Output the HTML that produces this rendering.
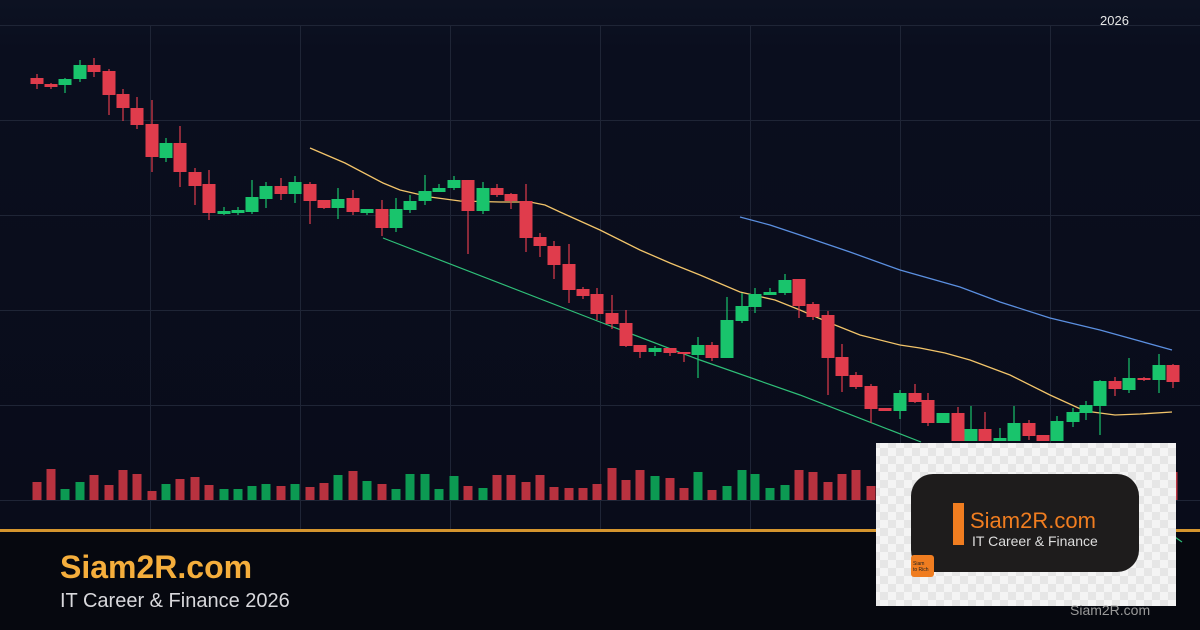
<!DOCTYPE html>
<html><head><meta charset="utf-8"><style>
html,body{margin:0;padding:0;width:1200px;height:630px;overflow:hidden;background:#080b16;font-family:"Liberation Sans",sans-serif}
#c{position:absolute;left:0;top:0}
</style></head><body>
<svg id="c" width="1200" height="630" xmlns="http://www.w3.org/2000/svg">
<defs>
<linearGradient id="bg" x1="0" y1="0" x2="0" y2="1"><stop offset="0" stop-color="#0d1222"/><stop offset="0.1" stop-color="#0a0e1e"/><stop offset="1" stop-color="#090c1a"/></linearGradient>
<pattern id="chk" width="16" height="16" patternUnits="userSpaceOnUse"><rect width="16" height="16" fill="#f4f4f4"/><rect width="8" height="8" fill="#e6e6e6"/><rect x="8" y="8" width="8" height="8" fill="#e6e6e6"/></pattern>
</defs>
<rect width="1200" height="530" fill="url(#bg)"/>
<rect y="530" width="1200" height="100" fill="#06080f"/>
<g id="grid" stroke="#1f2536" stroke-width="1"></g>
<g id="vol"></g>
<polyline fill="none" stroke="#2fbf78" stroke-width="1.2" points="383,238 600,322 700,360 800,395 921,442"/>
<polyline fill="none" stroke="#f2c46a" stroke-width="1.3" points="310,148 345,163 383,183 400,190 430,197 460,201 500,202 530,202 545,205 560,212 600,230 640,250 670,263 700,275 740,292 775,300 800,310 830,323 860,335 900,345 920,348 945,353 970,360 1010,375 1050,395 1085,411 1115,415 1140,414 1172,412"/>
<polyline fill="none" stroke="#5b8fe0" stroke-width="1.3" points="740,217 770,225 800,235 850,252 900,270 960,287 1000,302 1050,318 1100,330 1172,350"/>
<g id="cd"></g>
<rect x="0" y="529" width="1200" height="3" fill="#d4952e"/>
<text x="60" y="578" fill="#f5ae3c" font-size="32" font-weight="bold">Siam2R.com</text>
<text x="60" y="607" fill="#d8d8dc" font-size="20">IT Career &amp; Finance 2026</text>
<text x="1100" y="25" fill="#e6e6e6" font-size="13">2026</text>
<line x1="1172" y1="535" x2="1182" y2="542" stroke="#2fbf78" stroke-width="1.2"/>
<rect x="876" y="443" width="300" height="163" fill="url(#chk)"/>
<rect x="911" y="474" width="228" height="98" rx="22" fill="#1e1c1c"/>
<rect x="953" y="503" width="11" height="42" fill="#f07d20"/>
<text x="970" y="528" fill="#f07d20" font-size="22">Siam2R.com</text>
<text x="972" y="546" fill="#dddddd" font-size="14">IT Career &amp; Finance</text>
<rect x="911" y="555" width="23" height="22" rx="3" fill="#f07d20"/>
<text x="913" y="565" fill="#222" font-size="5">Siam</text>
<text x="913" y="571" fill="#222" font-size="5">to Rich</text>
<text x="1070" y="615" fill="#9a9a9a" font-size="14">Siam2R.com</text>
</svg>
<script>
var ns="http://www.w3.org/2000/svg";
function el(p,t,a){var e=document.createElementNS(ns,t);for(var k in a)e.setAttribute(k,a[k]);p.appendChild(e);return e;}
var g=document.getElementById('grid');
[25,120,215,310,405,500].forEach(function(y){el(g,'line',{x1:0,x2:1200,y1:y+.5,y2:y+.5});});
[150,300,450,600,750,900,1050].forEach(function(x){el(g,'line',{x1:x+.5,x2:x+.5,y1:25,y2:530});});
var C=[[37,78,84,74,89,0],[51,84,87,83,89,0],[65,79,85,78,93,1],[80,65,79,60,82,1],[94,65,72,58,77,0],[109,71,95,69,115,0],[123,94,108,89,121,0],[137,108,125,97,129,0],[152,124,157,100,172,0],[166,143,158,138,162,1],[180,143,172,126,187,0],[195,172,186,168,205,0],[209,184,213,170,220,0],[224,211,214,207,215,1],[238,210,213,207,215,1],[252,197,212,180,214,1],[266,186,199,182,208,1],[281,186,194,178,200,0],[295,182,194,176,203,1],[310,184,201,182,224,0],[324,200,208,200,209,0],[338,199,208,188,219,1],[353,198,212,190,215,0],[367,209,213,209,215,1],[382,209,228,200,236,0],[396,209,228,198,232,1],[410,201,210,195,213,1],[425,191,201,175,205,1],[439,188,192,184,192,1],[454,180,188,176,190,1],[468,180,211,180,254,0],[483,188,211,182,214,1],[497,188,195,184,197,0],[511,194,201,193,209,0],[526,201,238,184,252,0],[540,237,246,233,257,0],[554,246,265,241,279,0],[569,264,290,244,303,0],[583,289,296,287,299,0],[597,294,314,288,320,0],[612,313,324,295,329,0],[626,323,346,310,347,0],[640,345,352,345,358,0],[655,348,352,346,356,1],[670,348,353,348,356,0],[684,352,354,352,362,0],[698,345,355,337,378,1],[712,345,358,342,361,0],[727,320,358,297,358,1],[742,306,321,293,323,1],[755,294,307,288,313,1],[770,292,295,288,295,1],[785,280,293,274,295,1],[799,279,306,279,318,0],[813,304,317,302,320,0],[828,315,358,311,395,0],[842,357,376,344,392,0],[856,375,387,372,389,0],[871,386,409,384,423,0],[885,408,411,408,411,0],[900,393,411,390,419,1],[915,393,402,384,403,0],[928,400,423,393,426,0],[943,413,423,413,423,1],[958,413,441,407,441,0],[971,429,441,406,441,1],[985,429,441,412,441,0],[1000,438,441,428,441,1],[1014,423,441,406,441,1],[1029,423,436,420,440,0],[1043,435,441,435,441,0],[1057,421,441,416,441,1],[1073,412,422,408,427,1],[1086,405,413,401,420,1],[1100,381,406,380,435,1],[1115,381,389,377,396,0],[1129,378,390,358,393,1],[1144,378,380,377,381,0],[1159,365,380,354,393,1],[1173,365,382,364,388,0]];
var cd=document.getElementById('cd');
C.forEach(function(c){var col=c[5]?'#19c46c':'#e03c4c';
el(cd,'line',{x1:c[0],x2:c[0],y1:c[3],y2:c[4],stroke:col,'stroke-width':1.2});
el(cd,'rect',{x:c[0]-6.5,y:c[1],width:13,height:Math.max(2,c[2]-c[1]),fill:col});});
var V=[482,469,489,482,475,485,470,474,491,484,479,477,485,489,489,486,484,486,484,487,483,475,471,481,484,489,474,474,489,476,486,488,475,475,482,475,487,488,488,484,468,480,470,476,478,488,472,490,486,470,474,488,485,470,472,482,474,470,486,476,478,480,476,484,478,476,480,470,476,478,484,476,472,480,478,484,486,480,476,472];
var vg=document.getElementById('vol');
C.forEach(function(c,i){var y=V[i]||480;el(vg,'rect',{x:c[0]-4.5,y:y,width:9,height:500-y,fill:c[5]?'#0c9a52':'#b8323f'});});
</script>
</body></html>
